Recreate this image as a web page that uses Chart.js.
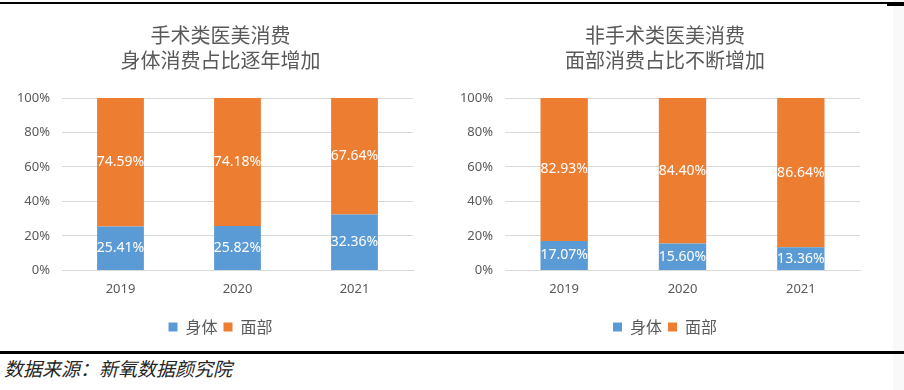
<!DOCTYPE html>
<html>
<head>
<meta charset="utf-8">
<script src="https://cdn.jsdelivr.net/npm/chart.js@4.4.0/dist/chart.umd.min.js"></script>
<style>
    body { margin: 0; background: #fff; width: 904px; height: 390px; position: relative; overflow: hidden; font-family: "Noto Sans CJK SC", "Noto Sans", sans-serif; }
    .box { position: absolute; top: 8px; width: 452px; height: 340px; }
    #leftBox { left: 0; }
    #rightBox { left: 452px; }
    .rule { position: absolute; left: 0; background: #000; }
    #edge { position: absolute; left: 893px; top: 0; width: 11px; height: 390px; background: #f9f9f9; }
    #footer { position: absolute; left: 4px; top: 357px; font-size: 19px; line-height: 22px; font-style: italic; color: #262626; }
</style>
</head>
<body>
<div id="edge"></div>
<div class="rule" style="top:2px; height:2px; width:887px;"></div>
<div class="rule" style="top:2px; left:887px; height:4px; width:17px;"></div>
<div id="leftBox" class="box"><canvas id="leftChart"></canvas></div>
<div id="rightBox" class="box"><canvas id="rightChart"></canvas></div>
<div class="rule" style="top:351px; height:3px; width:904px;"></div>
<div id="footer">数据来源：新氧数据颜究院</div>

<script>
// Chart data
const years = ['2019', '2020', '2021'];
const seriesNames = ['身体', '面部'];

const surgicalTitle = ['手术类医美消费', '身体消费占比逐年增加'];
const surgicalBody = [25.41, 25.82, 32.36];
const surgicalFace = [74.59, 74.18, 67.64];

const nonSurgicalTitle = ['非手术类医美消费', '面部消费占比不断增加'];
const nonSurgicalBody = [17.07, 15.60, 13.36];
const nonSurgicalFace = [82.93, 84.40, 86.64];

const BLUE = '#5B9BD5';
const ORANGE = '#ED7D31';
const TEXT = '#595959';
const GRID = '#D9D9D9';

// draws the white percentage inside each bar segment
const barLabels = {
    id: 'barLabels',
    afterDatasetsDraw(chart) {
        const ctx = chart.ctx;
        ctx.save();
        ctx.font = '14px "Noto Sans", sans-serif';
        ctx.fillStyle = '#fff';
        ctx.textAlign = 'center';
        ctx.textBaseline = 'middle';
        chart.data.datasets.forEach((ds, i) => {
            const meta = chart.getDatasetMeta(i);
            meta.data.forEach((bar, j) => {
                const y = (bar.y + bar.base) / 2;
                ctx.fillText(ds.data[j].toFixed(2) + '%', bar.x, y);
            });
        });
        ctx.restore();
    }
};

// axisWidth: left axis width, spacer: empty right axis, rightPad: outer padding
function makeChart(canvasId, title, body, face, axisWidth, spacer, rightPad) {
    const ctx = document.getElementById(canvasId).getContext('2d');
    return new Chart(ctx, {
        type: 'bar',
        data: {
            labels: years,
            datasets: [
                { label: seriesNames[0], data: body, backgroundColor: BLUE, barPercentage: 0.4, categoryPercentage: 1 },
                { label: seriesNames[1], data: face, backgroundColor: ORANGE, barPercentage: 0.4, categoryPercentage: 1 }
            ]
        },
        options: {
            responsive: true,
            maintainAspectRatio: false,
            animation: false,
            layout: { padding: { top: 15, right: rightPad, bottom: 3, left: 0 } },
            plugins: {
                title: {
                    display: true,
                    text: title,
                    color: TEXT,
                    font: { family: '"Noto Sans CJK SC", sans-serif', size: 20, weight: 'normal', lineHeight: 1.25 },
                    padding: { top: 0, bottom: 25 }
                },
                legend: {
                    position: 'bottom',
                    labels: {
                        color: TEXT,
                        boxWidth: 9,
                        boxHeight: 9,
                        padding: 6,
                        font: { family: '"Noto Sans CJK SC", sans-serif', size: 16 }
                    }
                },
                tooltip: { enabled: false }
            },
            scales: {
                x: {
                    stacked: true,
                    grid: { display: false, drawTicks: false },
                    border: { color: GRID },
                    ticks: { color: TEXT, padding: 11, font: { family: '"Noto Sans", sans-serif', size: 13 } },
                    afterFit: (scale) => { scale.height += 5; }
                },
                y: {
                    stacked: true,
                    min: 0,
                    max: 100,
                    grid: { color: GRID, drawTicks: false },
                    border: { display: false },
                    ticks: {
                        stepSize: 20,
                        color: TEXT,
                        padding: 12,
                        font: { family: '"Noto Sans", sans-serif', size: 13 },
                        callback: (v) => v + '%'
                    },
                    afterFit: (scale) => { scale.width = axisWidth; }
                },
                yRight: {
                    position: 'right',
                    grid: { display: false, drawTicks: false },
                    border: { display: false },
                    ticks: { display: false },
                    afterFit: (scale) => { scale.width = spacer; }
                }
            }
        },
        plugins: [barLabels]
    });
}

makeChart('leftChart', surgicalTitle, surgicalBody, surgicalFace, 62, 28, 11);
makeChart('rightChart', nonSurgicalTitle, nonSurgicalBody, nonSurgicalFace, 53, 18, 26);
</script>
</body>
</html>
